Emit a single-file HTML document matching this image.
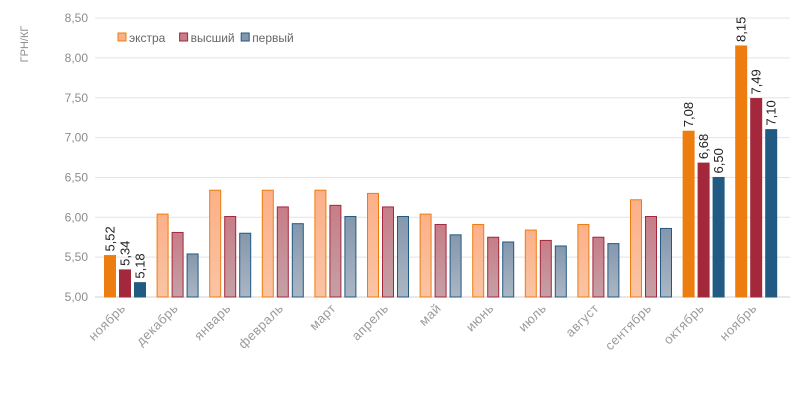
<!DOCTYPE html>
<html><head><meta charset="utf-8"><style>
body{margin:0;background:#fff;font-family:"Liberation Sans",sans-serif;}
svg text{font-family:"Liberation Sans","DejaVu Sans",sans-serif;}
</style></head><body>
<svg id="c" width="800" height="407">
<defs>
<linearGradient id="gO" x1="0" y1="0" x2="0" y2="1"><stop offset="0" stop-color="#fcb088"/><stop offset="1" stop-color="#f9c4a4"/></linearGradient>
<linearGradient id="gR" x1="0" y1="0" x2="0" y2="1"><stop offset="0" stop-color="#c77d87"/><stop offset="1" stop-color="#c5a0a6"/></linearGradient>
<linearGradient id="gB" x1="0" y1="0" x2="0" y2="1"><stop offset="0" stop-color="#8597ad"/><stop offset="1" stop-color="#aab6c4"/></linearGradient>
</defs>
</svg>
<script>
const categories=["ноябрь","декабрь","январь","февраль","март","апрель","май","июнь","июль","август","сентябрь","октябрь","ноябрь"];
const extra=[5.52,6.04,6.34,6.34,6.34,6.30,6.04,5.91,5.84,5.91,6.22,7.08,8.15];
const high=[5.34,5.81,6.01,6.13,6.15,6.13,5.91,5.75,5.71,5.75,6.01,6.68,7.49];
const first=[5.18,5.54,5.80,5.92,6.01,6.01,5.78,5.69,5.64,5.67,5.86,6.50,7.10];
const yTicks=[5,5.5,6,6.5,7,7.5,8,8.5];
const labeled=[0,11,12];
const NS="http://www.w3.org/2000/svg";
const svg=document.getElementById('c');
const x0=95,gw=52.6,y=v=>297-(v-5)*79.7;
function el(t,a,p){const e=document.createElementNS(NS,t);for(const k in a)e.setAttribute(k,a[k]);(p||svg).appendChild(e);return e;}
yTicks.forEach(v=>{
 const g=el('line',{x1:x0,x2:790,y1:y(v),y2:y(v),stroke:v===5?'#d0d0d0':'#e4e4e4','stroke-width':1});
 
 
 const t=el('text',{x:88,y:y(v)+4,'text-anchor':'end','font-size':12,fill:'#8c8c8c'});
 t.textContent=v.toFixed(2).replace('.',',');
 
 
});
const yt=el('text',{transform:'translate(28,44) rotate(-90)','text-anchor':'middle','font-size':11,fill:'#8c8c8c'});
yt.textContent='ГРН/КГ';


const series=[[extra,'url(#gO)','#ee7d10','#ee7d10','extra'],[high,'url(#gR)','#a3283c','#a3283c','high'],[first,'url(#gB)','#215a82','#215a82','first']];
categories.forEach((c,i)=>{
 const solid=labeled.includes(i);
 series.forEach((s,j)=>{
  const v=s[0][i],bx=x0+9+i*gw+j*15;
  const r=el('rect',{x:bx+0.5,y:y(v),width:11,height:297-y(v),fill:solid?s[3]:s[1],stroke:s[2],'stroke-width':1});
  
  
  if(solid){
   const t=el('text',{transform:`translate(${bx+10.5},${y(v)-4}) rotate(-90)`,'font-size':13,fill:'#222'});
   t.textContent=v.toFixed(2).replace('.',',');
   
   
  }
 });
 const cx=x0+i*gw+gw/2+5;
 const t=el('text',{transform:`translate(${cx},${309}) rotate(-45)`,'text-anchor':'end','font-size':13,'letter-spacing':'0.5',fill:'#9a9a9a'});
 t.textContent=c;
 
 
});
const leg=[['экстра','#fcb088','#ee7d10'],['высший','#c77d87','#a3283c'],['первый','#8597ad','#215a82']];
let lx=118;
leg.forEach(l=>{
 const r=el('rect',{x:lx,y:33,width:8,height:8,fill:l[1],stroke:l[2]});
 
 
 const t=el('text',{x:lx+11,y:42,'font-size':12,fill:'#666'});
 t.textContent=l[0];
 
 
 lx+=l[0].length*6.6+22;
});
</script>
</body></html>
